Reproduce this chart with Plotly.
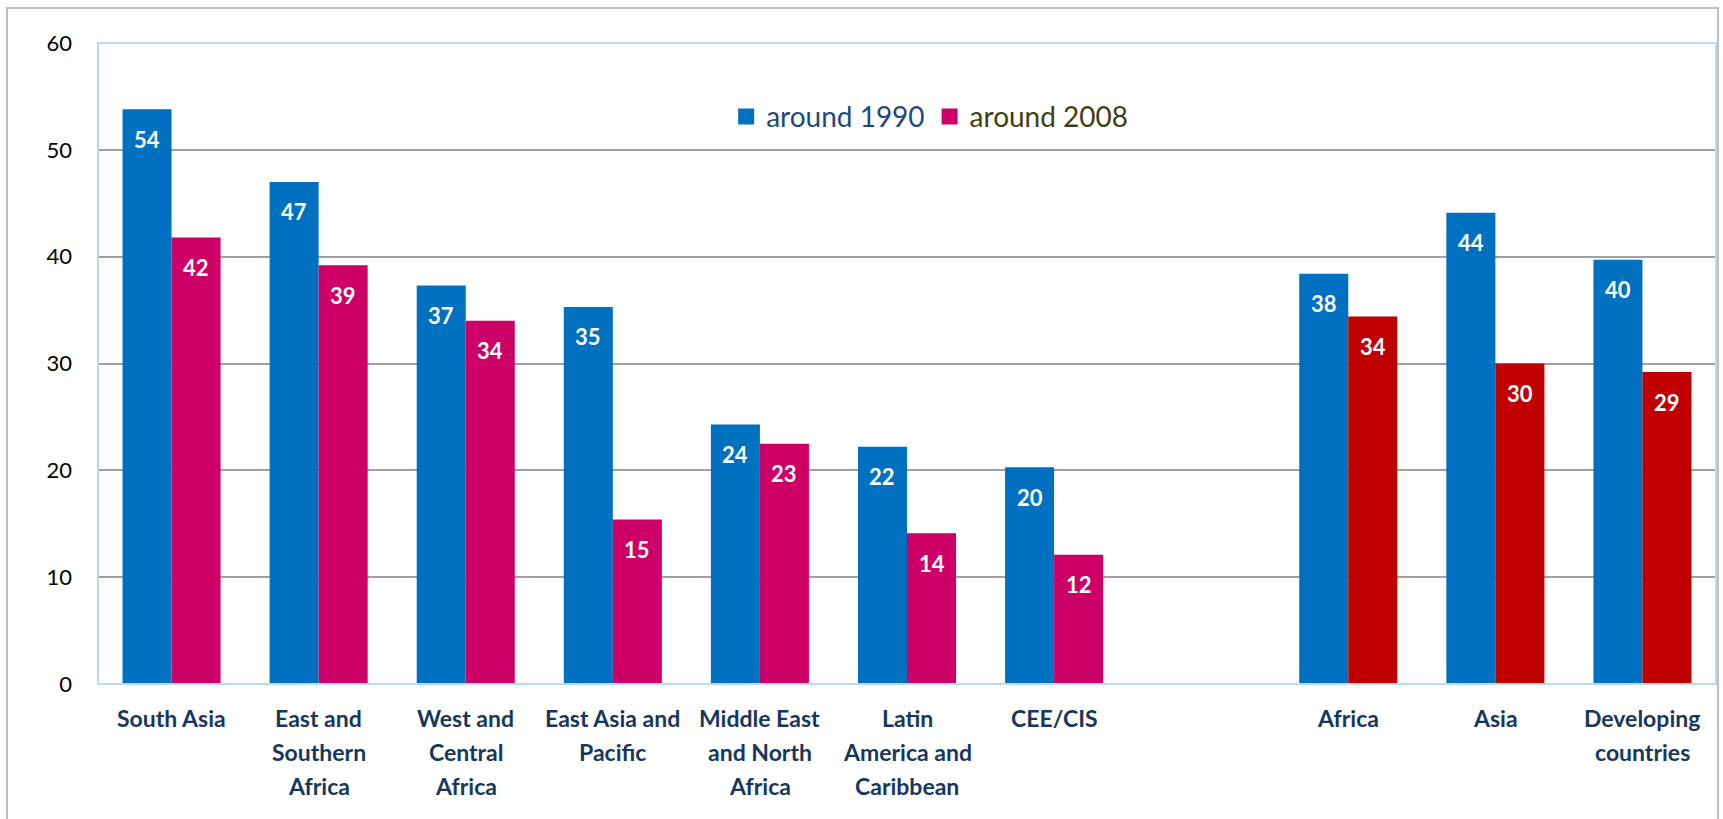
import plotly.graph_objects as go

categories = ["South Asia", "East and<br>Southern<br>Africa", "West and<br>Central<br>Africa",
              "East Asia and<br>Pacific", "Middle East<br>and North<br>Africa",
              "Latin<br>America and<br>Caribbean", "CEE/CIS", "",
              "Africa", "Asia", "Developing<br>countries"]
positions = list(range(len(categories)))
v1990 = [53.8, 47.0, 37.3, 35.3, 24.3, 22.2, 20.3, None, 38.4, 44.1, 39.7]
v2008 = [41.8, 39.2, 34.0, 15.4, 22.5, 14.1, 12.1, None, 34.4, 30.0, 29.2]
lab1990 = ["54", "47", "37", "35", "24", "22", "20", "", "38", "44", "40"]
lab2008 = ["42", "39", "34", "15", "23", "14", "12", "", "34", "30", "29"]
series_names = ["around 1990", "around 2008"]

BLUE = "#0070C0"
PINK = "#CC0066"
RED = "#C00000"
colors2008 = [PINK] * 8 + [RED] * 3

FONT = "Lato"
NAVY = "#17375E"

fig = go.Figure()
fig.add_trace(go.Bar(x=positions, y=v1990, name=series_names[0], showlegend=False,
                     marker=dict(color=BLUE, line=dict(width=0))))
fig.add_trace(go.Bar(x=positions, y=v2008, name=series_names[1], showlegend=False,
                     marker=dict(color=colors2008, line=dict(width=0))))
# legend entries (square swatches)
fig.add_trace(go.Scatter(x=[None], y=[None], mode="markers",
                         name="<span style='color:#1F497D'>" + series_names[0] + "</span>",
                         marker=dict(symbol="square", size=18, color=BLUE)))
fig.add_trace(go.Scatter(x=[None], y=[None], mode="markers",
                         name="<span style='color:#3F3F10'>" + series_names[1] + "</span>",
                         marker=dict(symbol="square", size=18, color=PINK)))

annotations = []
lab_font = dict(family=FONT, size=22, color="white", weight="bold")
for i, (a, b, la, lb) in enumerate(zip(v1990, v2008, lab1990, lab2008)):
    if a is not None:
        annotations.append(dict(x=i - 1/6, y=a, text=la, showarrow=False, yanchor="middle",
                                yshift=-30, font=lab_font))
    if b is not None:
        annotations.append(dict(x=i + 1/6, y=b, text=lb, showarrow=False, yanchor="middle",
                                yshift=-30, font=lab_font))
# category labels, one annotation per line for Excel-like line spacing
for i, cat in enumerate(categories):
    for k, line in enumerate(cat.split("<br>")):
        if line:
            annotations.append(dict(x=i, y=0, xref="x", yref="paper", text=line, showarrow=False,
                                    yanchor="middle", yshift=-34 * (k + 1),
                                    font=dict(family=FONT, size=23, color=NAVY, weight="bold")))

W, H = 1723, 819
L, R, T, B = 98, 7, 43, 135
pw, ph = W - L - R, H - T - B

shapes = [
    dict(type="rect", xref="paper", yref="paper",
         x0=(7 - L) / pw, x1=(1718 - L) / pw, y0=(H - B - 840) / ph, y1=(H - B - 8) / ph,
         line=dict(color="#BFBFBF", width=2), fillcolor="rgba(0,0,0,0)", layer="below"),
    dict(type="rect", xref="paper", yref="paper", x0=0, x1=1, y0=0, y1=1,
         line=dict(color="#B7DDE8", width=2), fillcolor="rgba(0,0,0,0)", layer="above"),
]

fig.update_layout(
    width=W, height=H,
    margin=dict(l=L, r=R, t=T, b=B, pad=0),
    paper_bgcolor="white", plot_bgcolor="white",
    barmode="group", bargap=1/3, bargroupgap=0,
    font=dict(family=FONT),
    showlegend=True,
    legend=dict(orientation="h", x=0.514, y=0.885, xanchor="center", yanchor="middle",
                font=dict(family=FONT, size=28), bgcolor="rgba(0,0,0,0)",
                itemwidth=30, traceorder="normal"),
    annotations=annotations,
    shapes=shapes,
)
fig.update_xaxes(range=[-0.5, len(categories) - 0.5], tickmode="array", tickvals=positions,
                 ticktext=[""] * len(categories), showgrid=False, zeroline=False, showline=False,
                 ticks="")
fig.update_yaxes(range=[0, 60], tickvals=[0, 10, 20, 30, 40, 50, 60], showgrid=True,
                 gridcolor="#A0A0A0", gridwidth=2, zeroline=False, showline=False,
                 ticks="", ticklabelstandoff=25,
                 tickfont=dict(family=FONT, size=22, color="black"))

fig.write_html("out.html", config={"displayModeBar": False},
               post_script="document.body.style.margin='0';")
